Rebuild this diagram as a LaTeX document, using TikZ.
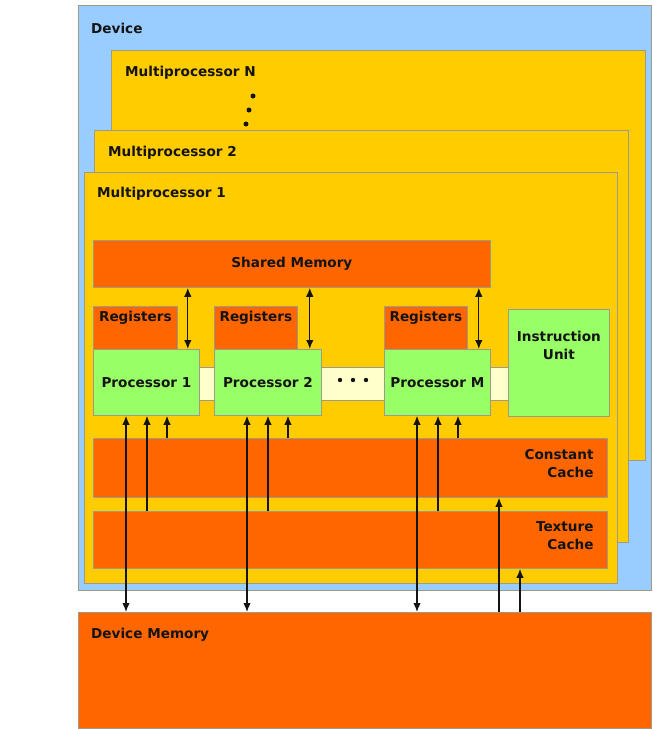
\documentclass[tikz,border=0pt]{standalone}
\usepackage{fontspec}
\setmainfont{DejaVu Sans}
\usetikzlibrary{positioning,arrows.meta}

\definecolor{devblue}{HTML}{99CCFF}
\definecolor{mpgold}{HTML}{FFCC00}
\definecolor{memorange}{HTML}{FF6600}
\definecolor{procgreen}{HTML}{99FF66}
\definecolor{busyellow}{HTML}{FFFFCC}
\definecolor{edgegray}{HTML}{A09A8A}
\definecolor{txt}{HTML}{141414}

\tikzset{
  blk/.style={draw=edgegray, line width=0.8pt, anchor=north west, inner sep=0pt},
  lbl/.style={font=\fontsize{13.6}{18}\selectfont\bfseries, text=txt, inner sep=0pt},
  arr/.style={draw=txt, line width=1.3pt, arrows={-Latex[length=9pt,width=7.5pt]}},
  dblarr/.style={arr, arrows={Latex[length=9pt,width=7.5pt]-Latex[length=9pt,width=7.5pt]}}
}

\begin{document}
\begin{tikzpicture}[x=1pt,y=-1pt]
  \fill[white] (0,0) rectangle (653,729);
  \useasboundingbox (0,0) rectangle (653,729);

  \node[blk, fill=devblue, minimum width=573, minimum height=585] (dev) at (78,5) {};
  \node[lbl, below right=18pt and 13pt of dev.north west] (devlbl) {Device};

  \node[blk, fill=mpgold, minimum width=534, minimum height=410] (mpN) at (111,50) {};
  \node[lbl, below right=16pt and 14pt of mpN.north west] (mpNlbl) {Multiprocessor N};
  \foreach \x/\y in {253/96, 249/110, 246/124}
    \fill[txt] (\x,\y) circle (2.5pt);

  \node[blk, fill=mpgold, minimum width=534, minimum height=412] (mp2) at (94,130) {};
  \node[lbl, below right=16pt and 14pt of mp2.north west] (mp2lbl) {Multiprocessor 2};

  \node[blk, fill=mpgold, minimum width=533, minimum height=411] (mp1) at (84,172) {};
  \node[lbl, below right=15pt and 13pt of mp1.north west] (mp1lbl) {Multiprocessor 1};

  \node[blk, lbl, fill=memorange, minimum width=397, minimum height=47] (smem) at (93,240) {Shared Memory};

  \node[blk, fill=busyellow, minimum width=309, minimum height=33] (bus) at (199,367) {};
  \foreach \x in {340, 353, 366}
    \fill[txt] (\x,380) circle (2.2pt);

  \node[blk, fill=memorange, minimum width=84, minimum height=43] (r1) at (93,306) {};
  \node[blk, fill=memorange, minimum width=83, minimum height=43] (r2) at (214,306) {};
  \node[blk, fill=memorange, minimum width=83, minimum height=43] (rM) at (384,306) {};
  \foreach \r in {r1, r2, rM}
    \node[lbl, below=5pt of \r.north] (\r lbl) {Registers};

  \node[blk, lbl, fill=procgreen, minimum width=106, minimum height=66] (p1) at (93,349) {Processor 1};
  \node[blk, lbl, fill=procgreen, minimum width=107, minimum height=66] (p2) at (214,349) {Processor 2};
  \node[blk, lbl, fill=procgreen, minimum width=106, minimum height=66] (pM) at (384,349) {Processor M};

  \node[blk, fill=procgreen, minimum width=101, minimum height=107] (iu) at (508,309) {};
  \node[lbl, align=center, below=22pt of iu.north] (iulbl) {Instruction\\Unit};

  \node[blk, fill=memorange, minimum width=514, minimum height=59] (cc) at (93,438) {};
  \node[lbl, align=right, below left=11pt and 14pt of cc.north east] (cclbl) {Constant\\Cache};

  \node[blk, fill=memorange, minimum width=514, minimum height=57] (tc) at (93,511) {};
  \node[lbl, align=right, below left=10pt and 14pt of tc.north east] (tclbl) {Texture\\Cache};

  \node[blk, fill=memorange, minimum width=573, minimum height=116] (dmem) at (78,612) {};
  \node[lbl, below right=16pt and 13pt of dmem.north west] (dmemlbl) {Device Memory};

  \foreach \p in {p1, p2, pM} {
    \draw[dblarr] ([xshift=-12pt]\p.north east) -- ([xshift=-12pt]\p.north east |- smem.south);
    \draw[dblarr] ([xshift=33pt]\p.south west) -- ([xshift=33pt]\p.south west |- dmem.north);
    \draw[arr] ([xshift=54pt]\p.south west |- tc.north) -- ([xshift=54pt]\p.south west);
    \draw[arr] ([xshift=74pt]\p.south west |- cc.north) -- ([xshift=74pt]\p.south west);
  }
  \draw[arr] ([xshift=421pt]dmem.north west) -- ([xshift=421pt]dmem.north west |- cc.south);
  \draw[arr] ([xshift=442pt]dmem.north west) -- ([xshift=442pt]dmem.north west |- tc.south);
\end{tikzpicture}
\end{document}
